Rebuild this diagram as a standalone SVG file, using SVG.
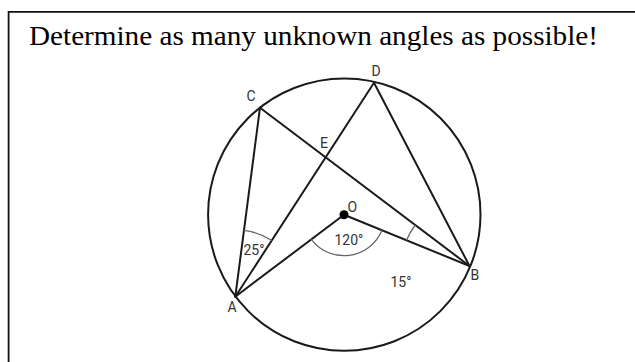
<svg xmlns="http://www.w3.org/2000/svg" width="635" height="362" viewBox="0 0 635 362">
<style>
.ln{stroke:#1a1a1a;stroke-width:2;fill:none;stroke-linecap:round}
.arc{stroke:#666;stroke-width:1.3;fill:none}
.lbl{font-family:Roboto,"Liberation Sans",sans-serif;font-size:14px;fill:#333}
.title{font-family:"Liberation Serif","Times New Roman",serif;font-size:27px;fill:#000}
</style>
<rect width="635" height="362" fill="#fff"/>
<path d="M8.6,362 V11.9 H635" fill="none" stroke="#111" stroke-width="1.8"/>
<text class="title" x="29" y="45" textLength="569" lengthAdjust="spacingAndGlyphs">Determine as many unknown angles as possible!</text>
<g id="circle"><circle cx="344.3" cy="214.6" r="136.2" class="ln"/></g>
<g id="connectors">
<line class="ln" x1="235.3" y1="296.7" x2="260" y2="107.7"/>
<line class="ln" x1="235.3" y1="296.7" x2="374" y2="82.7"/>
<line class="ln" x1="235.3" y1="296.7" x2="344" y2="214.7"/>
<line class="ln" x1="344" y1="214.7" x2="469.5" y2="266"/>
<line class="ln" x1="260" y1="107.7" x2="469.5" y2="266"/>
<line class="ln" x1="374" y1="82.7" x2="469.5" y2="266"/>
<path class="arc" d="M381.96,230.19 A41,41 0 0 1 311.26,239.37"/>
<path class="arc" d="M244.0,230.3 A67,67 0 0 1 271.8,240.5"/>
<path class="arc" d="M406.55,240.28 A68,68 0 0 1 415.25,225.0"/>
</g>
<g id="O"><circle cx="344" cy="214.7" r="4.5" fill="#000"/><text class="lbl" x="347.5" y="211.7">O</text></g>
<g id="A"><text class="lbl" x="227.5" y="311.7">A</text></g>
<g id="B"><text class="lbl" x="470.5" y="280">B</text></g>
<g id="C"><text class="lbl" x="246.5" y="100.7">C</text></g>
<g id="D"><text class="lbl" x="371.5" y="76">D</text></g>
<g id="E"><text class="lbl" x="320" y="148.3">E</text></g>
<g id="angles">
<text class="lbl" x="243.5" y="255">25°</text>
<text class="lbl" x="334.5" y="245">120°</text>
<text class="lbl" x="390.5" y="287.3">15°</text>
</g>
</svg>
